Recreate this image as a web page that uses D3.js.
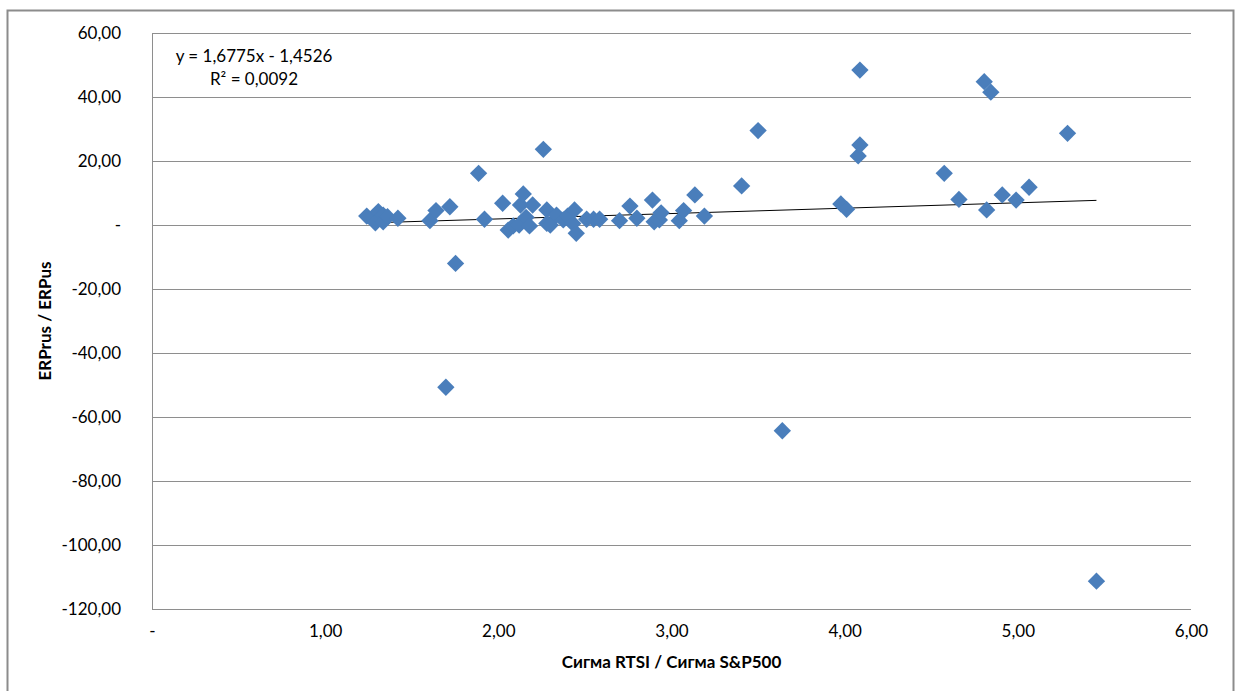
<!DOCTYPE html>
<html>
<head>
<meta charset="utf-8">
<script src="https://cdn.jsdelivr.net/npm/d3@7"></script>
<style>
    body { margin: 0; background: #fff; }
    svg { display: block; font-family: Lato, 'Noto Sans', sans-serif; }
</style>
</head>
<body>
<div class="scatter"></div>
<script>
// values
const sigmaRatio = [1.24, 1.307, 1.29, 1.335, 1.335, 1.36, 1.42, 1.605, 1.64, 1.72,
    1.697, 1.753, 1.886, 1.92, 2.025, 2.057, 2.086, 2.12, 2.128, 2.144,
    2.16, 2.18, 2.198, 2.26, 2.28, 2.28, 2.30, 2.336, 2.375, 2.40,
    2.43, 2.44, 2.45, 2.51, 2.55, 2.585, 2.70, 2.76, 2.80, 2.89,
    2.90, 2.93, 2.94, 3.045, 3.07, 3.135, 3.19, 3.405, 3.50, 3.64,
    3.978, 4.011, 4.078, 4.088, 4.088, 4.575, 4.66, 4.806, 4.82, 4.844,
    4.91, 4.99, 5.065, 5.287, 5.454];
const erpRatio = [2.8, 4.2, 0.7, 3.1, 1.0, 2.6, 2.1, 1.35, 4.5, 5.7,
    -50.7, -12.0, 16.15, 1.8, 6.8, -1.6, -0.3, 0.0, 6.25, 9.7,
    2.4, -0.3, 6.25, 23.65, 4.7, 0.5, 0.0, 3.1, 1.6, 2.8,
    0.5, 4.7, -2.6, 1.8, 1.8, 1.8, 1.35, 5.9, 2.1, 7.8,
    1.0, 1.6, 3.8, 1.35, 4.5, 9.4, 2.8, 12.2, 29.5, -64.3,
    6.6, 4.9, 21.6, 25.0, 48.4, 16.15, 8.0, 44.8, 4.7, 41.5,
    9.4, 7.8, 11.8, 28.65, -111.3];
const xTicks = [0, 1, 2, 3, 4, 5, 6];
const yTicks = [60, 40, 20, 0, -20, -40, -60, -80, -100, -120];
const trendSlope = 1.6775, trendIntercept = -1.4526;
const trendLabel = ['y = 1,6775x - 1,4526', 'R² = 0,0092'];
const xTitle = 'Сигма RTSI / Сигма S&P500';
const yTitle = 'ERPrus / ERPus';

const _width = 1240, _height = 691;
let plot = {left: 152, right: 1191, top: 33, bottom: 609};

let svg = d3.select('.scatter')
    .append('svg')
    .attr('width', _width)
    .attr('height', _height);

// chart frame
svg.append('rect')
    .attr('x', 7.5).attr('y', 10.5)
    .attr('width', 1226).attr('height', 700)
    .attr('fill', '#fff')
    .attr('stroke', '#8c8c8c')
    .attr('stroke-width', 2);

let x = d3.scaleLinear().domain([0, 6]).range([plot.left, plot.right]);
let y = d3.scaleLinear().domain([-120, 60]).range([plot.bottom, plot.top]);

// excel style: "-" for zero, comma decimals, plain hyphen for negatives
let fmt = d => d === 0 ? '-' : d.toFixed(2).replace('.', ',');

// horizontal gridlines
svg.append('g')
    .selectAll('line')
    .data(yTicks)
    .enter().append('line')
    .attr('x1', plot.left).attr('x2', plot.right)
    .attr('y1', d => Math.round(y(d)) + .5)
    .attr('y2', d => Math.round(y(d)) + .5)
    .attr('stroke', '#8e8e8e')
    .attr('stroke-width', 1);

// vertical axis line
svg.append('line')
    .attr('x1', plot.left + .5).attr('x2', plot.left + .5)
    .attr('y1', plot.top).attr('y2', plot.bottom)
    .attr('stroke', '#8e8e8e');

// y tick labels
let yAxis = d3.axisLeft(y).tickValues(yTicks).tickFormat(fmt).tickSize(0).tickPadding(31);
svg.append('g')
    .attr('transform', `translate(${plot.left},0)`)
    .call(yAxis)
    .call(g => g.select('.domain').remove())
    .selectAll('text')
    .attr('font-size', 17)
    .attr('font-family', "Lato, 'Noto Sans', sans-serif")
    .attr('fill', '#000');

// x tick labels
let xAxis = d3.axisBottom(x).tickValues(xTicks).tickFormat(fmt).tickSize(0).tickPadding(16);
svg.append('g')
    .attr('transform', `translate(0,${plot.bottom})`)
    .call(xAxis)
    .call(g => g.select('.domain').remove())
    .selectAll('text')
    .attr('font-size', 17)
    .attr('font-family', "Lato, 'Noto Sans', sans-serif")
    .attr('fill', '#000');

// trendline over the data range
let xMin = d3.min(sigmaRatio), xMax = d3.max(sigmaRatio);
svg.append('line')
    .attr('x1', x(xMin)).attr('y1', y(trendSlope * xMin + trendIntercept))
    .attr('x2', x(xMax)).attr('y2', y(trendSlope * xMax + trendIntercept))
    .attr('stroke', '#000')
    .attr('stroke-width', 1);

// points
let nodes = sigmaRatio.map((v, i) => ({x: v, y: erpRatio[i]}));
let diamond = d3.symbol().type(d3.symbolSquare).size(150);
svg.append('g')
    .selectAll('path')
    .data(nodes)
    .enter().append('path')
    .attr('d', diamond)
    .attr('transform', d => `translate(${x(d.x)},${y(d.y)}) rotate(45)`)
    .attr('fill', '#4a7ebb');

// trendline equation
svg.append('g')
    .selectAll('text')
    .data(trendLabel)
    .enter().append('text')
    .attr('x', 254)
    .attr('y', (d, i) => 62 + i * 23)
    .attr('text-anchor', 'middle')
    .attr('font-size', 17)
    .text(d => d);

// axis titles
svg.append('text')
    .attr('x', (plot.left + plot.right) / 2)
    .attr('y', 668)
    .attr('text-anchor', 'middle')
    .attr('font-size', 17)
    .attr('font-weight', 'bold')
    .text(xTitle);

svg.append('text')
    .attr('transform', `translate(51,${(plot.top + plot.bottom) / 2}) rotate(-90)`)
    .attr('text-anchor', 'middle')
    .attr('font-size', 17)
    .attr('font-weight', 'bold')
    .text(yTitle);
</script>
</body>
</html>
